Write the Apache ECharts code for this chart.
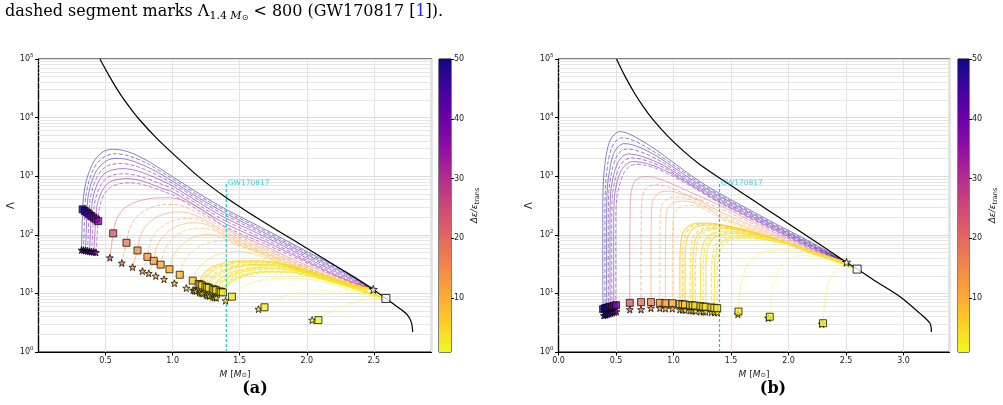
<!DOCTYPE html>
<html lang="en">
<head>
<meta charset="UTF-8">
<title>Lambda vs M</title>
<style>html,body{margin:0;padding:0;background:#fff;}#main{width:1003px;height:405px;}</style>
</head>
<body>
<div id="main"></div>
<script src="https://cdn.jsdelivr.net/npm/echarts@6/dist/echarts.min.js"></script>
<script>
// ---------- panel (a) ----------
var aBoundary = [[0.458,100000],[0.53,50000],[0.607,25700],[0.68,15000],[0.755,9100],[0.88,4470],[1.028,2140],[1.2,955],[1.395,437],[1.574,234],[1.8,112],[2.0,59],[2.25,26.3],[2.496,11.7],[2.59,8.2],[2.69,5.6],[2.75,4.3],[2.78,3.2],[2.79,2.2]];

var aPurpleEps = [50, 48, 46, 44, 42, 40, 38, 36];
var aPurpleStar = [[0.321,55],[0.336,54.5],[0.351,54],[0.366,53],[0.381,52],[0.396,51.5],[0.412,51],[0.428,50]];
var aPurpleSq = [[0.329,272],[0.345,255],[0.361,240],[0.377,225],[0.393,210],[0.41,196],[0.427,183],[0.445,171]];
var aPurplePath = [
    [[0.338,500],[0.36,900],[0.39,1400],[0.42,1900],[0.48,2600],[0.55,2880],[0.66,2650],[0.8,1900],[1.0,980],[1.2,500],[1.4,270],[1.7,120],[2.0,52],[2.3,23],[2.5,11.7]],
    [[0.352,450],[0.375,800],[0.405,1250],[0.44,1700],[0.5,2200],[0.57,2420],[0.68,2200],[0.82,1600],[1.0,900],[1.2,460],[1.4,250],[1.7,112],[2.0,49],[2.3,22],[2.5,11.7]],
    [[0.368,420],[0.39,720],[0.42,1100],[0.46,1500],[0.52,1900],[0.59,2020],[0.7,1820],[0.85,1300],[1.0,820],[1.2,420],[1.4,230],[1.7,104],[2.0,46],[2.3,21],[2.5,11.7]],
    [[0.384,390],[0.405,640],[0.435,960],[0.475,1300],[0.535,1560],[0.61,1650],[0.72,1500],[0.87,1080],[1.0,750],[1.2,385],[1.4,210],[1.7,97],[2.0,43],[2.3,20],[2.5,11.7]],
    [[0.4,360],[0.42,570],[0.45,830],[0.49,1100],[0.55,1280],[0.63,1350],[0.74,1230],[0.89,900],[1.0,680],[1.2,350],[1.4,190],[1.7,90],[2.0,40],[2.3,19],[2.5,11.7]],
    [[0.417,330],[0.437,500],[0.467,720],[0.505,920],[0.565,1060],[0.645,1100],[0.76,990],[0.91,740],[1.0,610],[1.2,315],[1.4,170],[1.7,82],[2.0,37],[2.3,18],[2.5,11.7]],
    [[0.434,300],[0.455,450],[0.485,620],[0.525,780],[0.585,880],[0.665,910],[0.78,820],[0.93,610],[1.0,540],[1.2,285],[1.4,152],[1.7,75],[2.0,35],[2.3,17],[2.5,11.7]],
    [[0.452,270],[0.472,400],[0.502,540],[0.542,660],[0.6,740],[0.68,770],[0.8,700],[0.95,530],[1.0,480],[1.2,255],[1.4,135],[1.7,68],[2.0,33],[2.3,16.5],[2.5,11.7]]
];

var aOrangeEps = [22, 17, 14, 12.5, 11.5, 10.5, 9.5, 8.5, 6.5];
var aOrangeStar = [[0.532,40.6],[0.621,33],[0.701,28],[0.775,24],[0.822,22],[0.874,19.8],[0.936,17.4],[1.013,14.9],[1.102,12.3]];
var aOrangeSq = [[0.557,106],[0.656,73],[0.738,54],[0.812,42],[0.859,36],[0.911,31],[0.976,25.8],[1.053,20.8],[1.15,16.5]];
var aOrangePath = [
    [[0.58,180],[0.63,270],[0.72,360],[0.85,420],[0.97,430],[1.1,370],[1.25,240],[1.4,128],[1.7,62],[2.0,30],[2.3,17],[2.5,11.7]],
    [[0.68,130],[0.73,200],[0.82,280],[0.95,330],[1.05,320],[1.2,230],[1.4,118],[1.7,58],[2.0,28],[2.3,16],[2.5,11.7]],
    [[0.76,95],[0.81,150],[0.9,210],[1.02,245],[1.12,235],[1.25,175],[1.4,108],[1.7,54],[2.0,27],[2.3,15.5],[2.5,11.7]],
    [[0.835,75],[0.89,120],[0.98,165],[1.1,190],[1.2,180],[1.3,140],[1.4,100],[1.7,50],[2.0,26],[2.3,15],[2.5,11.7]],
    [[0.88,62],[0.94,100],[1.03,140],[1.15,160],[1.25,150],[1.4,94],[1.7,48],[2.0,25],[2.3,15],[2.5,11.7]],
    [[0.935,52],[0.99,82],[1.08,115],[1.2,130],[1.3,120],[1.4,88],[1.7,46],[2.0,24],[2.3,14.5],[2.5,11.7]],
    [[1.0,42],[1.06,65],[1.15,90],[1.27,103],[1.4,82],[1.7,44],[2.0,23],[2.3,14],[2.5,11.7]],
    [[1.08,33],[1.14,50],[1.23,68],[1.35,78],[1.5,65],[1.7,42],[2.0,22],[2.3,14],[2.5,11.7]],
    [[1.18,25],[1.25,36],[1.35,47],[1.5,52],[1.7,40],[2.0,22],[2.3,14],[2.5,11.7]]
];

var aYellowEps = [5, 4.8, 4.6, 4.2, 4.0, 3.9, 3.6, 3.45, 3.3, 3.0, 2.9, 2.8];
var aYellowStar = [[1.152,11.4],[1.163,11.15],[1.175,10.9],[1.2,10.4],[1.212,10.15],[1.225,9.9],[1.25,9.4],[1.262,9.2],[1.275,9.0],[1.3,8.7],[1.313,8.55],[1.326,8.4]];
var aYellowSq = [[1.194,14.5],[1.207,14.1],[1.22,13.7],[1.245,13.0],[1.258,12.7],[1.27,12.4],[1.3,11.8],[1.312,11.55],[1.325,11.3],[1.35,10.8],[1.362,10.6],[1.375,10.4]];
var aYellowPath = [
    [[1.22,20],[1.28,27],[1.38,33],[1.5,36],[1.65,36],[1.8,33],[2.0,25],[2.2,18],[2.4,13],[2.5,11.7]],
    [[1.235,19.5],[1.295,26],[1.395,32],[1.515,35],[1.665,35],[1.825,31.5],[2.02,23.5],[2.25,16],[2.59,8.2]],
    [[1.25,19],[1.31,25],[1.41,31],[1.53,34],[1.68,34],[1.85,30],[2.05,22],[2.3,14.5],[2.5,11.7]],
    [[1.27,18],[1.34,24],[1.44,29],[1.56,32],[1.71,32],[1.88,28],[2.1,20],[2.35,13],[2.59,8.2]],
    [[1.285,17.5],[1.355,23],[1.455,28],[1.58,31],[1.73,31],[1.9,27],[2.12,19.5],[2.38,12.5],[2.5,11.7]],
    [[1.3,17],[1.37,22],[1.47,27],[1.6,30],[1.75,30],[1.92,26],[2.15,18.5],[2.4,11.5],[2.59,8.2]],
    [[1.33,16],[1.4,21],[1.5,25],[1.63,28],[1.78,28],[1.95,24],[2.2,16.5],[2.4,12],[2.5,11.7]],
    [[1.345,15.5],[1.415,20],[1.515,24.3],[1.645,27],[1.795,27],[1.965,23.3],[2.2,16.2],[2.59,8.2]],
    [[1.36,15],[1.43,19.5],[1.53,23.5],[1.66,26],[1.81,26],[1.98,22.5],[2.2,16],[2.4,11],[2.59,8.2]],
    [[1.39,14.5],[1.46,18.5],[1.56,22],[1.69,24],[1.84,24],[2.0,21],[2.25,14.5],[2.59,8.2]],
    [[1.4,14.2],[1.47,18],[1.57,21.5],[1.705,23.5],[1.855,23.3],[2.02,20],[2.28,13.7],[2.5,11.7]],
    [[1.41,14],[1.48,17.5],[1.58,21],[1.72,23],[1.87,22.5],[2.05,19],[2.3,13],[2.59,8.2]]
];

var aLoneEps = [2.5, 2.0, 1.5];
var aLoneStar = [[1.395,7.5],[1.64,5.4],[2.04,3.5]];
var aLoneSq = [[1.442,8.8],[1.685,5.8],[2.087,3.5]];
var aLonePath = [
    [[1.5,12],[1.6,15.5],[1.75,18],[1.95,18],[2.15,15],[2.35,11],[2.59,8.2]],
    [[1.75,7.5],[1.85,9.3],[2.0,10.8],[2.15,11.2],[2.3,10.5],[2.45,9.3],[2.59,8.2]],
    [[2.15,4.5],[2.25,5.8],[2.35,7],[2.45,7.9],[2.59,8.2]]
];
var aEndStar = [2.496, 11.7];
var aEndSq = [2.59, 8.2];

// ---------- panel (b) ----------
var bBoundary = [[0.504,100000],[0.58,50000],[0.66,26300],[0.74,15100],[0.82,9330],[0.95,4830],[1.1,2550],[1.229,1585],[1.4,933],[1.6,513],[1.8,282],[2.0,155],[2.25,73],[2.504,34],[2.597,26],[2.74,17],[2.97,8.8],[3.14,4.6],[3.23,3.1],[3.243,2.2]];

var bPurpleEps = [50, 48.5, 47, 45, 43.5, 42, 40, 38];
var bPurpleStar = [[0.394,4.2],[0.41,4.3],[0.425,4.4],[0.44,4.5],[0.455,4.6],[0.47,4.7],[0.487,4.8],[0.504,4.9]];
var bPurpleSq = [[0.388,5.4],[0.405,5.6],[0.42,5.7],[0.435,5.8],[0.45,5.9],[0.465,6.0],[0.482,6.15],[0.5,6.3]];
var bPurplePath = [
    [[0.385,30],[0.385,200],[0.39,800],[0.41,2000],[0.44,3700],[0.48,5000],[0.53,5750],[0.6,5400],[0.7,4300],[0.85,2800],[1.0,1700],[1.23,810],[1.4,510],[1.8,190],[2.2,74],[2.504,34]],
    [[0.403,30],[0.403,200],[0.41,700],[0.43,1700],[0.46,3000],[0.5,4000],[0.55,4500],[0.62,4300],[0.72,3500],[0.86,2400],[1.0,1550],[1.23,760],[1.4,480],[1.8,180],[2.2,71],[2.504,34]],
    [[0.418,30],[0.418,200],[0.425,650],[0.45,1450],[0.48,2450],[0.52,3200],[0.57,3600],[0.64,3450],[0.74,2900],[0.88,2050],[1.0,1420],[1.23,710],[1.4,455],[1.8,172],[2.2,68],[2.504,34]],
    [[0.433,30],[0.433,200],[0.44,600],[0.465,1250],[0.5,2050],[0.54,2650],[0.59,2900],[0.66,2800],[0.76,2400],[0.9,1750],[1.0,1300],[1.23,670],[1.4,430],[1.8,165],[2.2,66],[2.504,34]],
    [[0.448,30],[0.448,200],[0.455,550],[0.48,1050],[0.515,1700],[0.56,2200],[0.61,2400],[0.68,2300],[0.78,2000],[0.92,1500],[1.0,1200],[1.23,630],[1.4,405],[1.8,158],[2.2,64],[2.504,34]],
    [[0.463,30],[0.463,200],[0.47,500],[0.495,900],[0.53,1450],[0.575,1850],[0.63,2050],[0.7,1980],[0.8,1750],[0.94,1320],[1.0,1120],[1.23,600],[1.4,385],[1.8,152],[2.2,62],[2.504,34]],
    [[0.48,30],[0.48,200],[0.487,450],[0.51,800],[0.545,1250],[0.59,1600],[0.645,1780],[0.72,1720],[0.82,1530],[0.96,1170],[1.0,1060],[1.23,575],[1.4,365],[1.8,146],[2.2,60],[2.504,34]],
    [[0.498,30],[0.498,200],[0.505,400],[0.53,700],[0.565,1100],[0.61,1420],[0.67,1600],[0.74,1550],[0.84,1380],[1.0,990],[1.23,550],[1.4,350],[1.8,140],[2.2,58],[2.504,34]]
];

var bOrangeEps = [22, 18, 15, 13, 12, 10.5];
var bOrangeStar = [[0.62,5.3],[0.718,5.3],[0.804,5.6],[0.881,5.6],[0.93,5.5],[0.99,5.5]];
var bOrangeSq = [[0.62,6.9],[0.718,7.1],[0.804,7.1],[0.881,6.9],[0.93,6.8],[0.99,6.8]];
var bOrangePath = [
    [[0.62,30],[0.622,200],[0.63,500],[0.66,800],[0.71,950],[0.78,980],[0.86,920],[1.0,720],[1.2,480],[1.4,320],[1.8,130],[2.2,56],[2.504,34]],
    [[0.718,30],[0.72,200],[0.73,450],[0.76,620],[0.81,700],[0.88,710],[0.96,650],[1.1,500],[1.25,380],[1.4,285],[1.8,122],[2.2,54],[2.504,34]],
    [[0.804,30],[0.806,150],[0.815,350],[0.85,480],[0.9,545],[0.97,555],[1.05,510],[1.2,400],[1.4,250],[1.8,114],[2.2,52],[2.504,34]],
    [[0.881,30],[0.883,150],[0.893,300],[0.93,390],[0.98,435],[1.05,440],[1.13,410],[1.25,330],[1.4,225],[1.8,108],[2.2,50],[2.504,34]],
    [[0.93,30],[0.932,130],[0.942,260],[0.98,335],[1.03,370],[1.1,375],[1.18,350],[1.3,280],[1.4,205],[1.8,102],[2.2,49],[2.504,34]],
    [[0.99,30],[0.992,120],[1.002,220],[1.04,280],[1.09,310],[1.16,315],[1.25,290],[1.4,190],[1.8,97],[2.2,48],[2.504,34]]
];

var bYellowEps = [6.5, 6.1, 5.8, 5.2, 4.95, 4.7, 4.2, 4.0, 3.8, 3.4, 3.2, 3.0];
var bYellowStar = [[1.055,5.3],[1.078,5.25],[1.1,5.2],[1.145,5.1],[1.167,5.05],[1.19,5.0],[1.235,4.9],[1.258,4.87],[1.28,4.85],[1.33,4.8],[1.355,4.75],[1.38,4.7]];
var bYellowSq = [[1.055,6.6],[1.078,6.5],[1.1,6.45],[1.145,6.3],[1.167,6.25],[1.19,6.2],[1.235,6.05],[1.258,5.95],[1.28,5.9],[1.33,5.75],[1.355,5.67],[1.38,5.6]];
var bYellowPath = [
    [[1.055,20],[1.06,60],[1.08,105],[1.13,140],[1.2,157],[1.3,158],[1.45,145],[1.7,110],[2.0,70],[2.3,45],[2.504,34]],
    [[1.078,20],[1.083,58],[1.103,100],[1.15,134],[1.22,151],[1.32,153],[1.47,140],[1.72,106],[2.02,67],[2.32,42],[2.597,26]],
    [[1.1,20],[1.105,55],[1.125,95],[1.17,128],[1.24,145],[1.34,148],[1.5,135],[1.75,102],[2.05,65],[2.35,40],[2.597,26]],
    [[1.145,20],[1.15,52],[1.17,88],[1.22,118],[1.29,134],[1.39,137],[1.55,125],[1.8,95],[2.1,60],[2.4,38],[2.504,34]],
    [[1.167,20],[1.172,50],[1.192,84],[1.24,113],[1.31,128],[1.41,131],[1.57,120],[1.82,92],[2.12,58],[2.4,37],[2.504,34]],
    [[1.19,20],[1.195,48],[1.215,80],[1.26,108],[1.33,122],[1.43,126],[1.6,115],[1.85,88],[2.15,56],[2.4,36],[2.597,26]],
    [[1.235,20],[1.24,44],[1.26,72],[1.31,98],[1.38,112],[1.48,116],[1.65,106],[1.9,82],[2.2,52],[2.597,26]],
    [[1.258,19],[1.263,42],[1.283,69],[1.33,93],[1.4,107],[1.5,111],[1.67,101],[1.92,79],[2.22,50],[2.597,26]],
    [[1.28,18],[1.285,40],[1.305,66],[1.35,89],[1.42,102],[1.52,106],[1.7,97],[1.95,76],[2.25,48],[2.504,34]],
    [[1.33,18],[1.335,36],[1.355,60],[1.4,81],[1.47,93],[1.57,97],[1.75,89],[2.0,70],[2.3,44],[2.597,26]],
    [[1.355,17],[1.36,35],[1.38,57],[1.425,77],[1.495,88],[1.595,92],[1.77,85],[2.02,67],[2.32,42],[2.504,34]],
    [[1.38,16],[1.385,33],[1.405,54],[1.45,73],[1.52,84],[1.62,88],[1.8,82],[2.05,64],[2.35,40],[2.597,26]]
];

var bLoneEps = [2.5, 2.0, 1.5];
var bLoneStar = [[1.56,4.4],[1.823,3.8],[2.29,3.0]];
var bLoneSq = [[1.565,4.9],[1.837,4.0],[2.3,3.1]];
var bLonePath = [
    [[1.575,10],[1.6,18],[1.64,30],[1.7,42],[1.8,52],[1.95,55],[2.15,50],[2.35,38],[2.597,26]],
    [[1.85,9],[1.88,17],[1.93,28],[2.0,38],[2.1,44],[2.25,42],[2.4,34],[2.597,26]],
    [[2.31,6],[2.33,11],[2.37,19],[2.42,26],[2.5,29],[2.597,26]]
];
var bEndStar = [2.504, 34];
var bEndSq = [2.597, 26];

var gwMass = 1.4;
var gwLambda = 760;
var cbTicks = [10, 20, 30, 40, 50];

// ---------- helpers ----------
var plasma = ['#0d0887','#41049d','#6a00a8','#8f0da4','#b12a90','#cc4778','#e16462','#f2844b','#fca636','#fcce25','#f0f921'];
function hexRgb(h) {
    return [parseInt(h.substr(1, 2), 16), parseInt(h.substr(3, 2), 16), parseInt(h.substr(5, 2), 16)];
}
function epsColor(v, a) {
    var t = Math.max(0, Math.min(1, (50 - v) / 49)) * 10;
    var i = Math.min(9, Math.floor(t)), f = t - i;
    var c0 = hexRgb(plasma[i]), c1 = hexRgb(plasma[i + 1]);
    var c = c0.map(function (x, k) { return Math.round(x + (c1[k] - x) * f); });
    return 'rgba(' + c[0] + ',' + c[1] + ',' + c[2] + ',' + a + ')';
}
var starPath = 'path://M0,-10L2.35,-3.24L9.51,-3.09L3.8,1.24L5.88,8.09L0,4L-5.88,8.09L-3.8,1.24L-9.51,-3.09L-2.35,-3.24Z';
var FONT = 'DejaVu Sans';
var GW = '#1cc7d2';

function curves(gi, eps, stars, sqs, paths, alpha, width) {
    return paths.map(function (p, i) {
        return {
            type: 'line', xAxisIndex: gi, yAxisIndex: gi, smooth: 0.3, symbol: 'none', silent: true, z: 3,
            data: [stars[i], sqs[i]].concat(p),
            lineStyle: { color: epsColor(eps[i], alpha), width: width, type: i % 2 ? [4, 2] : 'solid' }
        };
    });
}
function markers(gi, eps, pts, symbol) {
    return {
        type: 'scatter', xAxisIndex: gi, yAxisIndex: gi, symbol: symbol, symbolSize: 7, silent: true, z: 6,
        data: pts.map(function (p, i) { return [p[0], p[1], eps[i]]; }),
        itemStyle: {
            color: function (prm) { return epsColor(prm.data[2], 1); },
            borderColor: '#000', borderWidth: 0.9
        }
    };
}
function family(gi, eps, stars, sqs, paths, alpha, width) {
    return curves(gi, eps, stars, sqs, paths, alpha, width)
        .concat([markers(gi, eps, stars, starPath), markers(gi, eps, sqs, 'rect')]);
}
function minorLines(gi) {
    var vals = [];
    for (var k = 0; k < 5; k++) for (var m = 2; m < 10; m++) vals.push({ yAxis: m * Math.pow(10, k) });
    return {
        type: 'line', xAxisIndex: gi, yAxisIndex: gi, data: [], silent: true, z: 1,
        markLine: { silent: true, z: 1, symbol: 'none', animation: false, label: { show: false },
            emphasis: { disabled: true },
            lineStyle: { color: '#e6e6e6', width: 1, type: 'solid' }, data: vals }
    };
}
function boundary(gi, pts) {
    return { type: 'line', xAxisIndex: gi, yAxisIndex: gi, smooth: 0.3, symbol: 'none', silent: true, z: 4,
        data: pts, lineStyle: { color: '#000', width: 1.2, type: 'solid' } };
}
function gwLine(gi) {
    return [{
        type: 'line', xAxisIndex: gi, yAxisIndex: gi, symbol: 'none', silent: true, z: 5,
        data: [[gwMass, 1], [gwMass, gwLambda]],
        lineStyle: { color: GW, width: 1.2, type: [3, 2] }
    }, {
        type: 'scatter', xAxisIndex: gi, yAxisIndex: gi, symbolSize: 1, silent: true, z: 5,
        itemStyle: { color: 'rgba(0,0,0,0)' },
        data: [[gwMass, gwLambda]],
        label: { show: true, position: 'right', distance: 1, formatter: 'GW170817', color: GW, fontSize: 7.5, fontFamily: FONT }
    }];
}
function endMarks(gi, st, sq) {
    return [{
        type: 'scatter', xAxisIndex: gi, yAxisIndex: gi, symbol: starPath, symbolSize: 8, silent: true, z: 7,
        data: [st], itemStyle: { color: '#fff', borderColor: '#000', borderWidth: 1 }
    }, {
        type: 'scatter', xAxisIndex: gi, yAxisIndex: gi, symbol: 'rect', symbolSize: 8, silent: true, z: 7,
        data: [sq], itemStyle: { color: '#fff', borderColor: '#000', borderWidth: 1 }
    }];
}
function yLog(gi, gap) {
    return {
        type: 'log', logBase: 10, min: 1, max: 100000, gridIndex: gi,
        name: 'Λ', nameLocation: 'middle', nameGap: gap, nameRotate: 90,
        nameTextStyle: { fontFamily: FONT, fontSize: 10, color: '#222' },
        axisLine: { show: true, lineStyle: { color: '#000', width: 1.2 } },
        axisTick: { show: true, length: 3.5, lineStyle: { color: '#000' } },
        splitLine: { show: true, lineStyle: { color: '#dcdcdc', width: 1 } },
        axisLabel: {
            margin: 5,
            formatter: function (v) { return '{b|10}{e|' + Math.round(Math.log10(v)) + '}'; },
            rich: {
                b: { fontFamily: FONT, fontSize: 8, color: '#222', lineHeight: 12 },
                e: { fontFamily: FONT, fontSize: 5.5, color: '#222', lineHeight: 6, verticalAlign: 'top' }
            }
        }
    };
}
function xMass(gi, max, showMin) {
    return {
        type: 'value', min: 0, max: max, interval: 0.5, gridIndex: gi,
        name: '{i|M} [{i|M}{s|⊙}]', nameLocation: 'middle', nameGap: 17,
        nameTextStyle: { fontFamily: FONT, fontSize: 9, color: '#222',
            rich: { i: { fontFamily: FONT, fontSize: 9, fontStyle: 'italic', color: '#222' },
                    s: { fontFamily: FONT, fontSize: 6.5, color: '#222', verticalAlign: 'bottom', lineHeight: 8 } } },
        axisLine: { show: true, onZero: false, lineStyle: { color: '#000', width: 1.2 } },
        axisTick: { show: true, length: 3.5, lineStyle: { color: '#000' } },
        splitLine: { show: true, lineStyle: { color: '#e2e2e2', width: 1 } },
        axisLabel: { showMinLabel: showMin, showMaxLabel: false, fontFamily: FONT, fontSize: 8, color: '#222', margin: 5,
            formatter: function (v) { return v.toFixed(1); } }
    };
}
function cbY(gi) {
    return {
        type: 'value', min: 1, max: 50, gridIndex: gi, position: 'right',
        name: '{n|Δε/ε}{s|trans}', nameLocation: 'middle', nameRotate: 90, nameGap: 18,
        nameTextStyle: { rich: {
            n: { fontFamily: FONT, fontSize: 9, fontStyle: 'italic', color: '#222', lineHeight: 12 },
            s: { fontFamily: FONT, fontSize: 6.5, color: '#222', verticalAlign: 'bottom', lineHeight: 9 } } },
        axisLine: { show: false },
        splitLine: { show: false },
        axisTick: { show: true, length: 3, customValues: cbTicks, lineStyle: { color: '#000' } },
        axisLabel: { customValues: cbTicks, fontFamily: FONT, fontSize: 8, color: '#222', margin: 3 }
    };
}
function cbBar(gi) {
    return {
        type: 'bar', xAxisIndex: gi, yAxisIndex: gi, barWidth: '100%', silent: true, data: [50],
        itemStyle: { color: new echarts.graphic.LinearGradient(0, 0, 0, 1, plasma.map(function (c, i) {
            return { offset: i / 10, color: c };
        })) }
    };
}

var myChart = echarts.init(document.getElementById('main'), null, { renderer: 'canvas' });

var series = [minorLines(0), minorLines(1)]
    .concat(family(0, aPurpleEps, aPurpleStar, aPurpleSq, aPurplePath, 0.5, 1))
    .concat(family(0, aOrangeEps, aOrangeStar, aOrangeSq, aOrangePath, 0.5, 1))
    .concat(family(0, aYellowEps, aYellowStar, aYellowSq, aYellowPath, 0.75, 1.2))
    .concat(family(0, aLoneEps, aLoneStar, aLoneSq, aLonePath, 0.45, 1))
    .concat(family(1, bPurpleEps, bPurpleStar, bPurpleSq, bPurplePath, 0.5, 1))
    .concat(family(1, bOrangeEps, bOrangeStar, bOrangeSq, bOrangePath, 0.5, 1))
    .concat(family(1, bYellowEps, bYellowStar, bYellowSq, bYellowPath, 0.75, 1.2))
    .concat(family(1, bLoneEps, bLoneStar, bLoneSq, bLonePath, 0.45, 1))
    .concat([boundary(0, aBoundary), boundary(1, bBoundary)])
    .concat(gwLine(0)).concat(gwLine(1))
    .concat(endMarks(0, aEndStar, aEndSq)).concat(endMarks(1, bEndStar, bEndSq))
    .concat([cbBar(2), cbBar(3)]);

var option = {
    animation: false,
    backgroundColor: '#fff',
    grid: [
        { left: 38.5, top: 59, width: 393, height: 293, show: true, borderColor: '#000', borderWidth: 1.2, backgroundColor: 'transparent' },
        { left: 558.5, top: 59, width: 391, height: 293, show: true, borderColor: '#000', borderWidth: 1.2, backgroundColor: 'transparent' },
        { left: 439, top: 59, width: 12, height: 293, show: true, borderColor: '#000', borderWidth: 1, backgroundColor: 'transparent' },
        { left: 958, top: 59, width: 11, height: 293, show: true, borderColor: '#000', borderWidth: 1, backgroundColor: 'transparent' }
    ],
    xAxis: [
        xMass(0, 2.93, false),
        xMass(1, 3.4, true),
        { type: 'category', data: ['cb'], gridIndex: 2, show: false },
        { type: 'category', data: ['cb'], gridIndex: 3, show: false }
    ],
    yAxis: [yLog(0, 22), yLog(1, 24), cbY(2), cbY(3)],
    graphic: [
        { type: 'text', x: 5, y: 2, silent: true, style: {
            text: 'dashed segment marks Λ{s|1.4 }{si|M}{ss|⊙} < 800 (GW170817 [{bl|1}]).',
            font: '16px "DejaVu Serif"', fill: '#000',
            rich: {
                s: { fontFamily: 'DejaVu Serif', fontSize: 11, verticalAlign: 'bottom', lineHeight: 20 },
                si: { fontFamily: 'DejaVu Serif', fontSize: 11, fontStyle: 'italic', verticalAlign: 'bottom', lineHeight: 20 },
                ss: { fontFamily: 'DejaVu Sans', fontSize: 8, verticalAlign: 'bottom', lineHeight: 17 },
                bl: { fontFamily: 'DejaVu Serif', fontSize: 16, fill: '#2020ff', color: '#2020ff' }
            } } },
        { type: 'text', x: 255, y: 389, silent: true, style: { text: '(a)', font: 'bold 16px "DejaVu Serif"', fill: '#000',
            textAlign: 'center', textVerticalAlign: 'middle', align: 'center', verticalAlign: 'middle' } },
        { type: 'text', x: 773, y: 389, silent: true, style: { text: '(b)', font: 'bold 16px "DejaVu Serif"', fill: '#000',
            textAlign: 'center', textVerticalAlign: 'middle', align: 'center', verticalAlign: 'middle' } }
    ],
    series: series
};

myChart.setOption(option);
</script>
</body>
</html>
